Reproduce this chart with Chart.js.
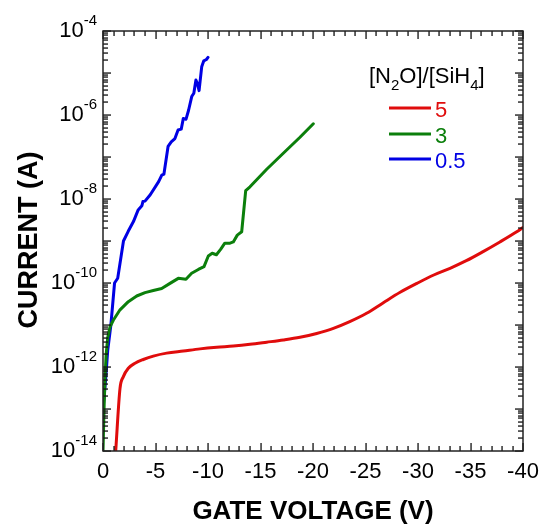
<!DOCTYPE html>
<html>
<head>
<meta charset="utf-8">
<script src="https://cdn.jsdelivr.net/npm/chart.js@4"></script>
<style>
  html, body { margin: 0; padding: 0; background: #fff; }
  #wrap { width: 548px; height: 524px; }
</style>
</head>
<body>
<div id="wrap"><canvas id="c" width="548" height="524"></canvas></div>
<script>
// Gate voltage (V) and drain current (A) for three [N2O]/[SiH4] ratios
const ratioLabels = ['5', '3', '0.5'];
const seriesColors = ['#e00c0c', '#0b7f0b', '#0000e4'];

const voltsRatio5 = [-1.21, -1.62, -1.94, -2.41, -3.05, -3.84, -4.79, -6.06, -7.65, -9.24,
  -10.83, -12.41, -14.0, -15.59, -17.17, -18.76, -20.35, -21.94, -23.5, -25.1,
  -26.7, -28.3, -29.9, -31.5, -33.05, -34.6, -36.2, -37.8, -39.4, -40.0];
const currentRatio5 = [1.0e-14, 3.1e-13, 5.9e-13, 9.3e-13, 1.23e-12, 1.51e-12, 1.82e-12, 2.14e-12, 2.4e-12, 2.7e-12,
  2.95e-12, 3.16e-12, 3.47e-12, 3.9e-12, 4.4e-12, 5.1e-12, 6.3e-12, 8.3e-12, 1.2e-11, 1.9e-11,
  3.4e-11, 6.0e-11, 9.8e-11, 1.55e-10, 2.24e-10, 3.4e-10, 5.6e-10, 9.5e-10, 1.66e-9, 2.1e-9];

const voltsRatio3 = [0, -0.1, -0.2, -0.3, -0.45, -0.67, -0.98, -1.62, -2.41, -3.21,
  -4.0, -4.79, -5.59, -6.38, -7.17, -7.9, -8.44, -9.08, -9.62, -10.03,
  -10.4, -10.8, -11.2, -11.6, -12.1, -12.41, -12.79, -13.21, -13.59, -14.0,
  -15.59, -17.17, -18.76, -20.03];
const currentRatio3 = [1.0e-14, 1.0e-13, 6.3e-13, 2.0e-12, 5.0e-12, 9.1e-12, 1.3e-11, 2.3e-11, 3.6e-11, 4.9e-11,
  5.9e-11, 6.6e-11, 7.4e-11, 9.8e-11, 1.29e-10, 1.23e-10, 1.7e-10, 2.1e-10, 2.45e-10, 4.4e-10,
  5.1e-10, 4.7e-10, 6.3e-10, 8.9e-10, 8.9e-10, 9.5e-10, 1.38e-9, 1.66e-9, 1.58e-8, 1.95e-8,
  5.1e-8, 1.23e-7, 2.95e-7, 6.2e-7];

const voltsRatio05 = [0, -0.25, -0.45, -0.75, -1.1, -1.4, -1.95, -2.4, -2.9, -3.35,
  -3.7, -3.8, -4.0, -4.5, -5.3, -5.6, -5.8, -6.2, -6.5, -6.85,
  -7.15, -7.45, -7.65, -7.9, -8.15, -8.45, -8.65, -8.85, -9.0, -9.15,
  -9.4, -9.6, -9.85, -10.0];
const currentRatio05 = [1.0e-13, 5.0e-13, 2.5e-12, 1.0e-11, 1.0e-10, 1.3e-10, 1.0e-9, 1.7e-9, 2.9e-9, 5.5e-9,
  6.9e-9, 8.7e-9, 8.9e-9, 1.26e-8, 2.6e-8, 3.7e-8, 3.9e-8, 1.8e-7, 2.3e-7, 2.75e-7,
  4.4e-7, 4.6e-7, 8.3e-7, 7.9e-7, 1.3e-6, 2.75e-6, 3.3e-6, 6.8e-6, 5.6e-6, 3.8e-6,
  1.4e-5, 1.95e-5, 2.1e-5, 2.35e-5];

// Axis ticks
const xTickValues = [0, -5, -10, -15, -20, -25, -30, -35, -40];
const yLabelExponents = [-14, -12, -10, -8, -6, -4];

const xTitle = 'GATE VOLTAGE (V)';
const yTitle = 'CURRENT (A)';

const FONT = '"Liberation Sans", Arial, Helvetica, sans-serif';

function toPoints(xs, ys) { return xs.map((x, i) => ({ x: x, y: ys[i] })); }

const frameAndLabels = {
  id: 'frameAndLabels',
  afterDraw(chart) {
    const ctx = chart.ctx;
    const xs = chart.scales.x, ys = chart.scales.y;
    const a = chart.chartArea;
    const L = Math.round(a.left), R = Math.round(a.right);
    const T = Math.round(a.top), B = Math.round(a.bottom);
    ctx.save();
    ctx.setLineDash([]);
    ctx.globalAlpha = 1;
    ctx.globalCompositeOperation = 'source-over';

    // inward ticks on all four sides
    ctx.fillStyle = '#111';
    for (let k = 0; k <= 40; k++) {
      const px = Math.round(xs.getPixelForValue(-k));
      const len = (k % 5 === 0) ? 8 : 5;
      ctx.fillRect(px - 0.6, B - len, 1.3, len);
      ctx.fillRect(px - 0.6, T, 1.3, len);
    }
    for (let e = -14; e <= -4; e++) {
      const mMax = (e === -4) ? 1 : 9;
      for (let m = 1; m <= mMax; m++) {
        const py = Math.round(ys.getPixelForValue(m * Math.pow(10, e)));
        const len = (m === 1) ? 8 : 5;
        ctx.fillRect(L, py - 0.6, len, 1.3);
        ctx.fillRect(R - len, py - 0.6, len, 1.3);
      }
    }

    // frame
    ctx.strokeStyle = '#222';
    ctx.lineWidth = 1.5;
    ctx.strokeRect(L, T, R - L, B - T);

    // x tick labels
    ctx.fillStyle = '#000';
    ctx.font = '22px ' + FONT;
    ctx.textAlign = 'center';
    ctx.textBaseline = 'alphabetic';
    xTickValues.forEach(v => {
      ctx.fillText(String(v), xs.getPixelForValue(v), 478);
    });

    // y tick labels: 10 with superscript exponent
    yLabelExponents.forEach(e => {
      const py = ys.getPixelForValue(Math.pow(10, e));
      const right = L - 6;
      ctx.font = '15px ' + FONT;
      const expText = String(e);
      const ew = ctx.measureText(expText).width;
      ctx.textAlign = 'left';
      ctx.fillText(expText, right - ew, py - 6);
      ctx.font = '22px ' + FONT;
      ctx.textAlign = 'right';
      ctx.fillText('10', right - ew, py + 6);
    });

    // axis titles
    ctx.font = 'bold 26px ' + FONT;
    ctx.textAlign = 'center';
    ctx.fillText(xTitle, (L + R) / 2, 519);
    ctx.save();
    ctx.translate(37, 240);
    ctx.rotate(-Math.PI / 2);
    ctx.font = 'bold 27px ' + FONT;
    ctx.fillText(yTitle, 0, 0);
    ctx.restore();

    // legend heading [N2O]/[SiH4]
    ctx.textAlign = 'left';
    let lx = 369;
    const parts = [['[N', 0], ['2', 1], ['O]/[SiH', 0], ['4', 1], [']', 0]];
    parts.forEach(p => {
      ctx.font = (p[1] ? '15px ' : '22px ') + FONT;
      ctx.fillText(p[0], lx, p[1] ? 90 : 83);
      lx += ctx.measureText(p[0]).width;
    });

    // legend entries
    const rowY = [108, 134, 159];
    ratioLabels.forEach((lab, i) => {
      ctx.fillStyle = seriesColors[i];
      ctx.fillRect(389, rowY[i] - 1.5, 42, 3);
      ctx.font = '22px ' + FONT;
      ctx.fillText(lab, 435, rowY[i] + 9);
    });

    ctx.restore();
  }
};

new Chart(document.getElementById('c'), {
  type: 'line',
  data: {
    datasets: [
      { label: ratioLabels[0], data: toPoints(voltsRatio5, currentRatio5), borderColor: seriesColors[0], cubicInterpolationMode: 'monotone' },
      { label: ratioLabels[1], data: toPoints(voltsRatio3, currentRatio3), borderColor: seriesColors[1] },
      { label: ratioLabels[2], data: toPoints(voltsRatio05, currentRatio05), borderColor: seriesColors[2] }
    ]
  },
  options: {
    responsive: false,
    animation: false,
    devicePixelRatio: 1,
    layout: { padding: { left: 103, top: 31, right: 25, bottom: 73 } },
    elements: {
      point: { radius: 0 },
      line: { borderWidth: 3, tension: 0, borderJoinStyle: 'round', borderCapStyle: 'round', fill: false }
    },
    plugins: { legend: { display: false }, tooltip: { enabled: false } },
    scales: {
      x: { type: 'linear', min: -40, max: 0, reverse: true, display: false },
      y: { type: 'logarithmic', min: 1e-14, max: 1e-4, display: false }
    }
  },
  plugins: [frameAndLabels]
});
</script>
</body>
</html>
